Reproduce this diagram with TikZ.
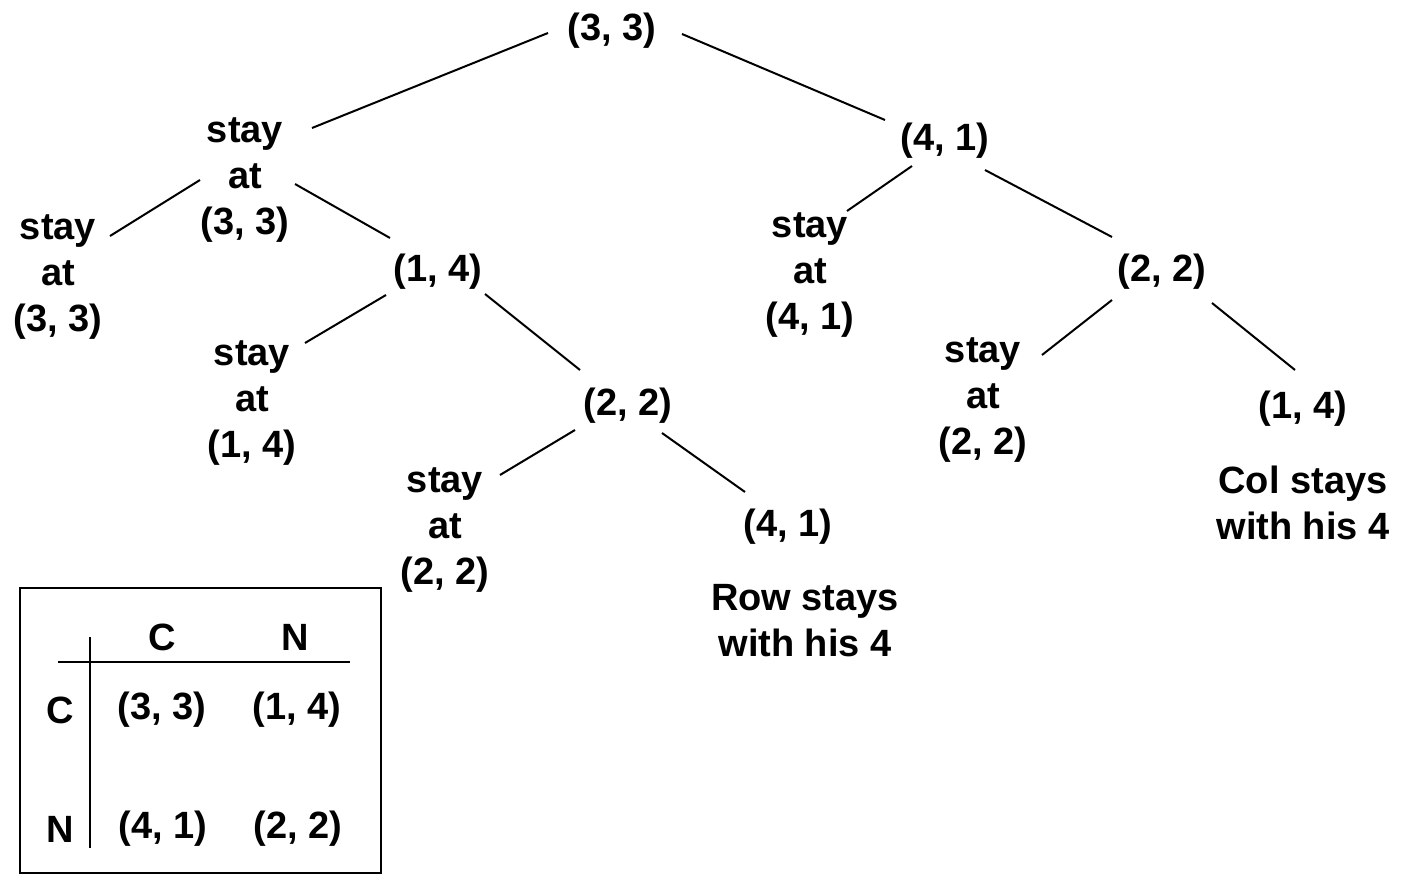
\documentclass[tikz,border=0pt]{standalone}
\usepackage{fontspec}
\setmainfont{Liberation Sans}
\usetikzlibrary{calc}

\tikzset{
  pay/.style={font=\fontsize{19}{23}\selectfont\bfseries, align=center, inner sep=0pt},
  edge/.style={line width=1pt},
  grid/.style={line width=1pt}
}

\begin{document}
\begin{tikzpicture}[x=0.5pt,y=-0.5pt]

\useasboundingbox (0,0) rectangle (1402,877);

% the tree
\node[pay] (root) at (612,31) {(3, 3)};

\node[pay] (A)  at (245,180) {stay\\at\\(3, 3)};
\node[pay] (B)  at (945,141) {(4, 1)};

\node[pay] (A1) at (58,277)  {stay\\at\\(3, 3)};
\node[pay] (A2) at (438,272) {(1, 4)};
\node[pay] (A2a) at (252,403) {stay\\at\\(1, 4)};
\node[pay] (A2b) at (628,406) {(2, 2)};
\node[pay] (A2b1) at (445,530) {stay\\at\\(2, 2)};
\node[pay] (A2b2) at (788,527) {(4, 1)};
\node[pay] (rownote) at (805,621) {Row stays\\with his 4};

\node[pay] (B1) at (810,275)  {stay\\at\\(4, 1)};
\node[pay] (B2) at (1162,272) {(2, 2)};
\node[pay] (B2a) at (983,400) {stay\\at\\(2, 2)};
\node[pay] (B2b) at (1303,409) {(1, 4)};
\node[pay] (colnote) at (1303,503) {Col stays\\with his 4};

\draw[edge] ($(root)+(-64,2)$) -- ($(A)+(67,-52)$);
\draw[edge] ($(root)+(70,3)$) -- ($(B)+(-60,-21)$);

\draw[edge] ($(A)+(-45,0)$) -- ($(A1)+(52,-41)$);
\draw[edge] ($(A)+(50,4)$) -- ($(A2)+(-48,-34)$);
\draw[edge] ($(A2)+(-52,23)$) -- ($(A2a)+(53,-60)$);
\draw[edge] ($(A2)+(47,22)$) -- ($(A2b)+(-48,-36)$);
\draw[edge] ($(A2b)+(-53,24)$) -- ($(A2b1)+(55,-55)$);
\draw[edge] ($(A2b)+(34,27)$) -- ($(A2b2)+(-43,-35)$);

\draw[edge] ($(B)+(-33,25)$) -- ($(B1)+(37,-64)$);
\draw[edge] ($(B)+(40,29)$) -- ($(B2)+(-50,-35)$);
\draw[edge] ($(B2)+(-50,28)$) -- ($(B2a)+(59,-45)$);
\draw[edge] ($(B2)+(50,31)$) -- ($(B2b)+(-8,-39)$);

% the game matrix
\draw[line width=1.2pt] (20,588) rectangle (381,873);
\draw[grid] (58,662) -- (350,662);
\draw[grid] (90,637) -- (90,848);

\node[pay] (hC) at (162,637) {C};
\node[pay] (hN) at (295,637) {N};
\node[pay] (rC) at (60,710) {C};
\node[pay] (rN) at (60,829) {N};
\node[pay] (cCC) at (162,710) {(3, 3)};
\node[pay] (cCN) at (297,710) {(1, 4)};
\node[pay] (cNC) at (163,829) {(4, 1)};
\node[pay] (cNN) at (298,829) {(2, 2)};

\end{tikzpicture}
\end{document}
